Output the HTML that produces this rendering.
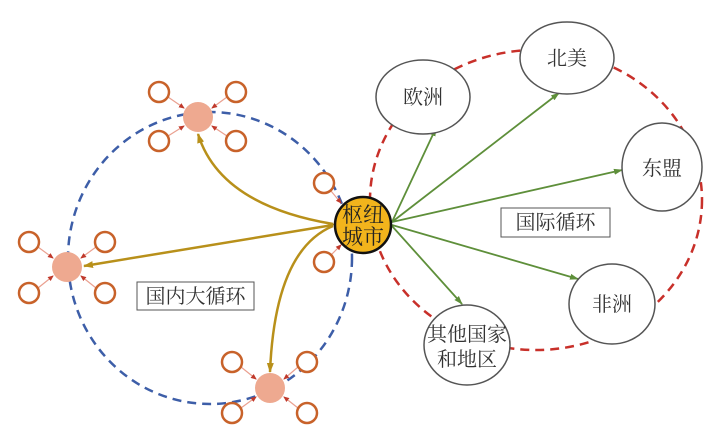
<!DOCTYPE html>
<html><head><meta charset="utf-8"><style>
html,body{margin:0;padding:0;background:#fff;}
svg{display:block}
text{font-family:"Liberation Serif","Noto Serif CJK SC",serif;}
</style></head><body>
<svg width="726" height="441" viewBox="0 0 726 441" xmlns="http://www.w3.org/2000/svg">
<defs>
<marker id="ar" markerWidth="6" markerHeight="6" refX="5" refY="3" orient="auto" markerUnits="userSpaceOnUse"><path d="M0,0.5 L6,3 L0,5.5z" fill="#c0392b"/></marker>
<marker id="ag" markerWidth="10" markerHeight="8" refX="9" refY="4" orient="auto" markerUnits="userSpaceOnUse"><path d="M0,0.5 L10,4 L0,7.5z" fill="#b8901a"/></marker>
<marker id="agr" markerWidth="9" markerHeight="7" refX="8" refY="3.5" orient="auto" markerUnits="userSpaceOnUse"><path d="M0,0.5 L9,3.5 L0,6.5z" fill="#5e8f3a"/></marker>
</defs>
<ellipse cx="210" cy="258" rx="142" ry="146" fill="none" stroke="#3d5ea8" stroke-width="2.5" stroke-dasharray="9,6"/>
<ellipse cx="536" cy="200" rx="166" ry="150" fill="none" stroke="#c8302a" stroke-width="2.5" stroke-dasharray="9,6"/>

<g stroke="#eaa090" stroke-width="1.2" marker-end="url(#ar)">
<line x1="168" y1="97" x2="184" y2="108"/><line x1="227" y1="97" x2="212" y2="108"/>
<line x1="168" y1="136" x2="184" y2="126"/><line x1="227" y1="136" x2="212" y2="126"/>
<line x1="38" y1="247" x2="53" y2="258"/><line x1="96" y1="247" x2="81" y2="258"/>
<line x1="38" y1="288" x2="53" y2="276"/><line x1="96" y1="288" x2="81" y2="276"/>
<line x1="241" y1="367" x2="256" y2="379"/><line x1="298" y1="367" x2="284" y2="379"/>
<line x1="241" y1="408" x2="256" y2="397"/><line x1="298" y1="408" x2="284" y2="397"/>
<line x1="331" y1="191" x2="341" y2="203"/><line x1="331" y1="255" x2="341" y2="245"/>
</g>
<g fill="#fff" stroke="#c8622a" stroke-width="2.5">
<circle cx="159" cy="92" r="10"/><circle cx="236" cy="92" r="10"/><circle cx="159" cy="141" r="10"/><circle cx="236" cy="141" r="10"/>
<circle cx="29" cy="242" r="10"/><circle cx="105" cy="242" r="10"/><circle cx="29" cy="293" r="10"/><circle cx="105" cy="293" r="10"/>
<circle cx="232" cy="362" r="10"/><circle cx="307" cy="362" r="10"/><circle cx="232" cy="413" r="10"/><circle cx="307" cy="413" r="10"/>
<circle cx="324" cy="183" r="10"/><circle cx="324" cy="262" r="10"/>
</g>
<g fill="#eea990"><circle cx="198" cy="117" r="15"/><circle cx="67" cy="267" r="15"/><circle cx="270" cy="388" r="15"/></g>

<g fill="none" stroke="#b8901a" stroke-width="2.5">
<path d="M333,224 Q220,205 198,134" marker-start="url(#ag)" marker-end="url(#ag)"/>
<path d="M333,225 L84,266" marker-start="url(#ag)" marker-end="url(#ag)"/>
<path d="M333,226 Q275,250 270,372" marker-end="url(#ag)"/>
</g>

<g stroke="#5e8f3a" stroke-width="1.8" marker-end="url(#agr)">
<line x1="392" y1="222" x2="436" y2="128"/>
<line x1="392" y1="222" x2="559" y2="93"/>
<line x1="392" y1="222" x2="622" y2="170"/>
<line x1="392" y1="225" x2="578" y2="279"/>
<line x1="392" y1="226" x2="462" y2="304"/>
</g>

<g fill="#fff" stroke="#555" stroke-width="1.5">
<ellipse cx="423" cy="97" rx="47" ry="37"/>
<ellipse cx="567" cy="58" rx="47" ry="36"/>
<ellipse cx="662" cy="167" rx="40" ry="44"/>
<ellipse cx="612" cy="304" rx="43" ry="40"/>
<ellipse cx="467" cy="345" rx="43" ry="40"/>
</g>
<g font-size="20" fill="#333" text-anchor="middle">
<text x="423" y="104">欧洲</text>
<text x="567" y="65">北美</text>
<text x="662" y="175">东盟</text>
<text x="612" y="311">非洲</text>
<text x="467" y="341">其他国家</text>
<text x="467" y="366">和地区</text>
</g>

<circle cx="363" cy="225" r="28" fill="#f2b41c" stroke="#111" stroke-width="2.5"/>
<g font-size="21" fill="#222" text-anchor="middle">
<text x="363" y="222">枢纽</text>
<text x="363" y="244">城市</text>
</g>

<rect x="137" y="282" width="117" height="28" fill="#fff" stroke="#555" stroke-width="1"/>
<text x="195.5" y="303" font-size="20" fill="#333" text-anchor="middle">国内大循环</text>
<rect x="501" y="208" width="109" height="29" fill="#fff" stroke="#555" stroke-width="1"/>
<text x="555.5" y="229" font-size="20" fill="#333" text-anchor="middle">国际循环</text>
</svg>
</body></html>
